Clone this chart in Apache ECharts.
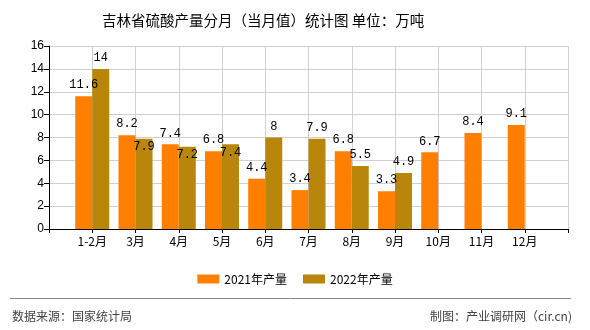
<!DOCTYPE html>
<html>
<head>
<meta charset="utf-8">
<script src="https://cdn.jsdelivr.net/npm/echarts@6/dist/echarts.min.js"></script>
<style>
  html, body { margin: 0; padding: 0; background: #fff; }
  #chart { width: 590px; height: 330px; }
</style>
</head>
<body>
<div id="chart"></div>
<script>
// Monthly sulfuric acid output, Jilin province (10k tonnes)
const months = ['1-2月', '3月', '4月', '5月', '6月', '7月', '8月', '9月', '10月', '11月', '12月'];
const output2021 = [11.6, 8.2, 7.4, 6.8, 4.4, 3.4, 6.8, 3.3, 6.7, 8.4, 9.1];
const output2022 = [14, 7.9, 7.2, 7.4, 8, 7.9, 5.5, 4.9, null, null, null];
const seriesNames = ['2021年产量', '2022年产量'];
const yTicks = { min: 0, max: 16, interval: 2 };

// Pad the category axis with an empty slot on each side so each month sits on a grid line
const cats = [''].concat(months, ['']);
const pad = arr => [null].concat(arr, [null]);

// The 2022 label drops inside its bar when it would collide with the 2021 label
const data2022 = pad(output2022).map((v, i) => {
  const other = pad(output2021)[i];
  if (v != null && other != null && Math.abs(v - other) < 1) {
    return { value: v, label: { position: 'insideTop', distance: 2 } };
  }
  return v;
});

const labelStyle = {
  show: true,
  position: 'top',
  distance: 5,
  color: '#000',
  fontFamily: 'Liberation Mono, DejaVu Sans Mono, monospace',
  fontSize: 12
};

const chart = echarts.init(document.getElementById('chart'), null, { renderer: 'canvas' });
chart.setOption({
  animation: false,
  backgroundColor: '#fff',
  title: {
    text: '吉林省硫酸产量分月（当月值）统计图 单位：万吨',
    left: 97,
    top: 8,
    textStyle: { fontFamily: 'Noto Sans CJK SC', fontSize: 14.5, fontWeight: 'normal', color: '#000' }
  },
  legend: {
    top: 268,
    left: 'center',
    itemWidth: 22,
    itemHeight: 9,
    itemGap: 16,
    icon: 'rect',
    textStyle: { fontFamily: 'Noto Sans CJK SC', fontSize: 12, color: '#000' },
    data: seriesNames
  },
  grid: { left: 49, right: 22, top: 46, bottom: 101, containLabel: false },
  xAxis: {
    type: 'category',
    data: cats,
    boundaryGap: false,
    axisLine: { lineStyle: { color: '#000', width: 1 } },
    axisTick: { show: true, length: 4, lineStyle: { color: '#000' } },
    axisLabel: { color: '#000', fontFamily: 'Noto Sans CJK SC', fontSize: 12, margin: 6, interval: 0 },
    splitLine: { show: true, lineStyle: { color: '#d0d0d0', width: 1 } }
  },
  yAxis: {
    type: 'value',
    min: yTicks.min,
    max: yTicks.max,
    interval: yTicks.interval,
    axisLine: { show: true, lineStyle: { color: '#000', width: 1 } },
    axisTick: { show: true, length: 5, lineStyle: { color: '#000' } },
    axisLabel: { color: '#000', fontFamily: 'Liberation Sans, Arial, sans-serif', fontSize: 12, margin: 5 },
    splitLine: { show: true, lineStyle: { color: '#d0d0d0', width: 1 } }
  },
  series: [
    {
      name: seriesNames[0],
      type: 'bar',
      data: pad(output2021),
      barWidth: 17,
      barGap: '0%',
      itemStyle: { color: '#ff8000' },
      label: labelStyle
    },
    {
      name: seriesNames[1],
      type: 'bar',
      data: data2022,
      barWidth: 17,
      barGap: '0%',
      itemStyle: { color: '#b8860b' },
      label: labelStyle
    }
  ],
  graphic: [
    {
      type: 'line',
      shape: { x1: 10, y1: 298.5, x2: 571, y2: 298.5 },
      style: { stroke: '#888', lineWidth: 1 }
    },
    {
      type: 'text',
      left: 12,
      top: 310,
      style: { text: '数据来源：国家统计局', fill: '#444', font: '12px "Noto Sans CJK SC"' }
    },
    {
      type: 'text',
      right: 18,
      top: 310,
      style: { text: '制图：产业调研网（cir.cn)', fill: '#444', font: '12px "Noto Sans CJK SC"' }
    }
  ]
});
</script>
</body>
</html>
